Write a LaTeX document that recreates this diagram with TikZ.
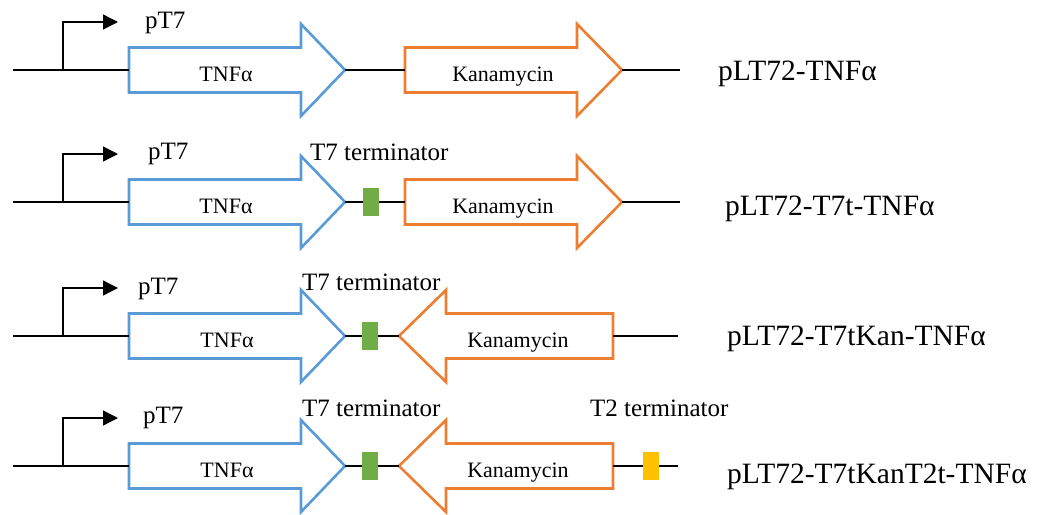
\documentclass[tikz,border=0pt]{standalone}
\usepackage{fontspec}
\setmainfont{Liberation Serif}
\usetikzlibrary{arrows.meta}
\definecolor{geneblue}{HTML}{5B9BD5}
\definecolor{geneorange}{HTML}{ED7D31}
\definecolor{termgreen}{HTML}{70AD47}
\definecolor{termyellow}{HTML}{FFC000}
\tikzset{
  bb/.style={black, line width=1.3pt},
  prom/.style={black, line width=1.3pt, -{Triangle[length=15pt,width=15pt]}},
  tnfbox/.style={draw=geneblue, fill=white, line width=2.6pt, line join=miter},
  kanbox/.style={draw=geneorange, fill=white, line width=2.6pt, line join=miter},
  inner/.style={font=\fontsize{22}{25}\selectfont, anchor=base},
  small/.style={font=\fontsize{25}{29}\selectfont, anchor=base west, inner sep=0pt},
  big/.style={font=\fontsize{29.5}{34}\selectfont, anchor=base west, inner sep=0pt},
  termbox/.style={minimum width=16pt, minimum height=28pt, inner sep=0pt, draw=none},
}
% forward gene: name, left, headbase, tip, y, style, label, label x
\newcommand\genefwd[8]{%
  \coordinate (#1-l) at (#2,#5);
  \coordinate (#1-t) at (#4,#5);
  \draw[#6] (#2,#5-22.5) -- (#3,#5-22.5) -- (#3,#5-46) -- (#4,#5) -- (#3,#5+46) -- (#3,#5+22.5) -- (#2,#5+22.5) -- cycle;
  \node[inner] (#1-txt) at (#8,#5+11) {#7};
}
% reverse gene: name, tip, headbase, right, y, style, label, label x
\newcommand\generev[8]{%
  \coordinate (#1-t) at (#2,#5);
  \coordinate (#1-r) at (#4,#5);
  \draw[#6] (#4,#5-22.5) -- (#3,#5-22.5) -- (#3,#5-46) -- (#2,#5) -- (#3,#5+46) -- (#3,#5+22.5) -- (#4,#5+22.5) -- cycle;
  \node[inner] (#1-txt) at (#8,#5+11) {#7};
}
\begin{document}
\begin{tikzpicture}[x=1pt,y=-1pt]
\useasboundingbox (0,0) rectangle (1038,514);
% ---------- Row 1 ----------
\coordinate (a-s) at (13,70);
\coordinate (a-e) at (680,70);
\coordinate (a-p) at (63,70);
\coordinate (a-pe) at (118,22);
\genefwd{a-tnf}{129}{301}{345}{70}{tnfbox}{TNFα}{226}
\genefwd{a-kan}{405}{577}{622}{70}{kanbox}{Kanamycin}{503}
\draw[bb] (a-s) -- (a-tnf-l);
\draw[bb] (a-tnf-t) -- (a-kan-l);
\draw[bb] (a-kan-t) -- (a-e);
\draw[prom] (a-p) |- (a-pe);
\node[small] (a-pt7) at (145,28) {pT7};
\node[big] (a-name) at (718,80) {pLT72-TNFα};
% ---------- Row 2 ----------
\coordinate (b-s) at (13,202);
\coordinate (b-e) at (680,202);
\coordinate (b-p) at (63,202);
\coordinate (b-pe) at (118,154);
\genefwd{b-tnf}{129}{301}{345}{202}{tnfbox}{TNFα}{226}
\genefwd{b-kan}{405}{577}{622}{202}{kanbox}{Kanamycin}{503}
\draw[bb] (b-s) -- (b-tnf-l);
\draw[bb] (b-tnf-t) -- (b-kan-l);
\draw[bb] (b-kan-t) -- (b-e);
\draw[prom] (b-p) |- (b-pe);
\node[termbox, fill=termgreen] (b-t7) at (371,202) {};
\node[small] (b-pt7) at (148,159) {pT7};
\node[small] (b-t7lab) at (310,160) {T7 terminator};
\node[big] (b-name) at (725,215) {pLT72-T7t-TNFα};
% ---------- Row 3 ----------
\coordinate (c-s) at (13,336);
\coordinate (c-e) at (678,336);
\coordinate (c-p) at (63,336);
\coordinate (c-pe) at (118,288);
\genefwd{c-tnf}{129}{301}{345}{336}{tnfbox}{TNFα}{227}
\generev{c-kan}{399}{446}{613}{336}{kanbox}{Kanamycin}{518}
\draw[bb] (c-s) -- (c-tnf-l);
\draw[bb] (c-tnf-t) -- (c-kan-t);
\draw[bb] (c-kan-r) -- (c-e);
\draw[prom] (c-p) |- (c-pe);
\node[termbox, fill=termgreen] (c-t7) at (370,336) {};
\node[small] (c-pt7) at (138,294) {pT7};
\node[small] (c-t7lab) at (302,290) {T7 terminator};
\node[big] (c-name) at (727,345) {pLT72-T7tKan-TNFα};
% ---------- Row 4 ----------
\coordinate (d-s) at (13,466);
\coordinate (d-e) at (678,466);
\coordinate (d-p) at (63,466);
\coordinate (d-pe) at (118,418);
\genefwd{d-tnf}{129}{301}{345}{466}{tnfbox}{TNFα}{227}
\generev{d-kan}{399}{446}{613}{466}{kanbox}{Kanamycin}{518}
\draw[bb] (d-s) -- (d-tnf-l);
\draw[bb] (d-tnf-t) -- (d-kan-t);
\draw[bb] (d-kan-r) -- (d-e);
\draw[prom] (d-p) |- (d-pe);
\node[termbox, fill=termgreen] (d-t7) at (370,466) {};
\node[termbox, fill=termyellow] (d-t2) at (651,466) {};
\node[small] (d-pt7) at (143,423) {pT7};
\node[small] (d-t7lab) at (302,416) {T7 terminator};
\node[small] (d-t2lab) at (590,416) {T2 terminator};
\node[big] (d-name) at (727,483) {pLT72-T7tKanT2t-TNFα};
\end{tikzpicture}
\end{document}
